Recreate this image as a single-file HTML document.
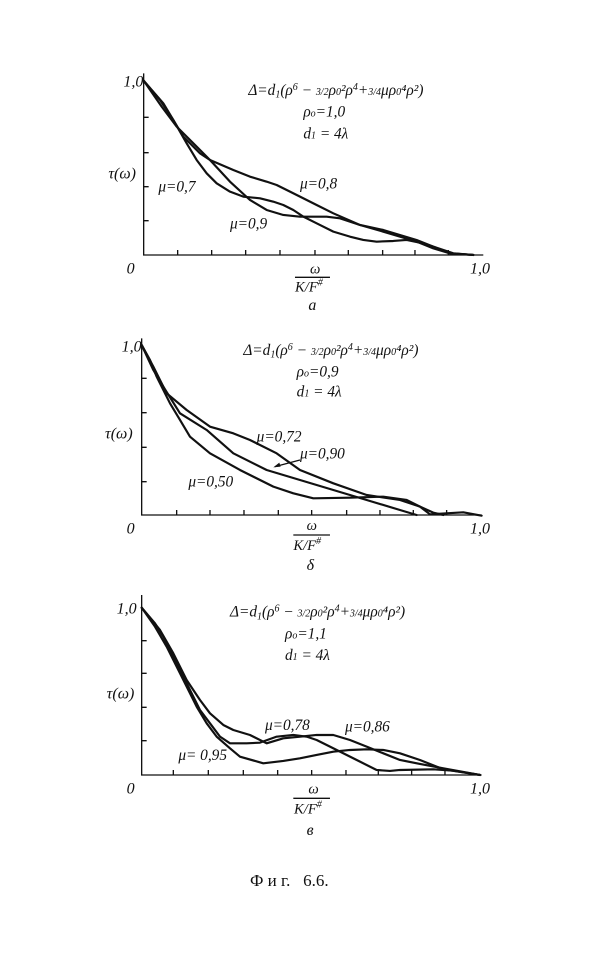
<!DOCTYPE html>
<html><head><meta charset="utf-8"><style>
html,body{margin:0;padding:0;background:#fff;}
svg{display:block;}
text{font-family:"Liberation Serif",serif;font-style:italic;fill:#111;}
.c{fill:none;stroke:#111;stroke-width:6.5;stroke-linejoin:round;stroke-linecap:round;}
.ax{fill:none;stroke:#111;stroke-width:4;}
</style></head><body>
<svg width="600" height="957" viewBox="0 0 600 957">
<!-- Chart a -->
<g transform="translate(100,60) scale(0.3333)">
<path class="ax" d="M131,40 V585 H1150"/>
<path class="ax" d="M131,172h15M131,278h15M131,380h15M131,482h15M233,585v-15M335,585v-15M437,585v-15M540,585v-15M645,585v-15M745,585v-15M848,585v-15M945,585v-15M1045,585v-15"/>
<path class="c" d="M131,62 L190,130 250,230 300,280 330,300 400,330 450,350 500,365 530,375 570,395 600,410 650,435 700,460 780,495 850,515 950,545 1000,565 1050,580 1120,585"/>
<path class="c" d="M131,62 L180,120 220,180 260,250 290,300 320,340 350,370 390,395 430,410 480,415 520,425 550,435 580,450 610,470 650,490 700,515 750,530 790,540 830,545 880,543 920,540 960,548 1000,560 1060,580 1120,585"/>
<path class="c" d="M131,62 L185,140 230,200 280,250 330,300 390,365 450,420 500,450 550,465 600,470 630,470 680,470 720,475 780,495 850,510 950,540 1000,560 1050,580 1120,585"/>
<text x="70" y="80" font-size="48">1,0</text>
<text x="80" y="640" font-size="48">0</text>
<text x="1110" y="640" font-size="48">1,0</text>
<text x="25" y="355" font-size="48">τ(ω)</text>
<text x="175" y="395" font-size="46">μ=0,7</text>
<text x="600" y="385" font-size="46">μ=0,8</text>
<text x="390" y="505" font-size="46">μ=0,9</text>
<text x="630" y="640" font-size="44">ω</text>
<path d="M585,652 H690" stroke="#111" stroke-width="4"/>
<text x="585" y="695" font-size="44">K/F<tspan font-size="30" dy="-18">#</tspan></text>
<text x="625" y="750" font-size="48">a</text>
<text x="445" y="105" font-size="46">Δ=d<tspan font-size="30" dy="8">1</tspan><tspan dy="-8">(ρ<tspan font-size="30" dy="-15">6</tspan><tspan dy="15"> − </tspan><tspan font-size="30">3/2</tspan>ρ<tspan font-size="30">0</tspan>²ρ<tspan font-size="30" dy="-15">4</tspan><tspan dy="15">+</tspan><tspan font-size="30">3/4</tspan>μρ<tspan font-size="30">0</tspan>⁴ρ²)</tspan></text>
<text x="610" y="170" font-size="46">ρ<tspan font-size="30">o</tspan>=1,0</text>
<text x="610" y="235" font-size="46">d<tspan font-size="30">1</tspan> = 4λ</text>
</g>
<!-- Chart b -->
<g transform="translate(100,330) scale(0.3333)">
<path class="ax" d="M125,25 V555 H1145"/>
<path class="ax" d="M125,145h15M125,248h15M125,352h15M125,455h15M230,555v-15M330,555v-15M432,555v-15M535,555v-15M635,555v-15M740,555v-15M840,555v-15M940,555v-15M1040,555v-15"/>
<path class="c" d="M125,45 L160,110 200,190 260,240 330,290 400,310 450,330 530,370 600,420 700,460 800,495 900,510 960,530 1000,548 1030,555"/>
<path class="c" d="M125,45 L160,120 190,170 240,250 320,300 400,370 500,420 600,450 700,480 800,510 900,540 950,555"/>
<path class="c" d="M125,45 L150,90 170,140 210,220 240,270 270,320 330,370 420,420 520,470 580,490 640,505 750,503 850,500 920,510 960,530 990,553 1040,550 1090,547 1145,557"/>
<text x="65" y="65" font-size="48">1,0</text>
<text x="80" y="610" font-size="48">0</text>
<text x="1110" y="610" font-size="48">1,0</text>
<text x="15" y="325" font-size="48">τ(ω)</text>
<text x="470" y="335" font-size="46">μ=0,72</text>
<text x="600" y="385" font-size="46">μ=0,90</text>
<path d="M600,390 L525,410" stroke="#111" stroke-width="4"/>
<path d="M520,412 l18,-14 l4,12z" fill="#111"/>
<text x="265" y="470" font-size="46">μ=0,50</text>
<text x="620" y="600" font-size="44">ω</text>
<path d="M580,615 H690" stroke="#111" stroke-width="4"/>
<text x="580" y="660" font-size="44">K/F<tspan font-size="30" dy="-18">#</tspan></text>
<text x="620" y="720" font-size="48">δ</text>
<text x="430" y="75" font-size="46">Δ=d<tspan font-size="30" dy="8">1</tspan><tspan dy="-8">(ρ<tspan font-size="30" dy="-15">6</tspan><tspan dy="15"> − </tspan><tspan font-size="30">3/2</tspan>ρ<tspan font-size="30">0</tspan>²ρ<tspan font-size="30" dy="-15">4</tspan><tspan dy="15">+</tspan><tspan font-size="30">3/4</tspan>μρ<tspan font-size="30">0</tspan>⁴ρ²)</tspan></text>
<text x="590" y="140" font-size="46">ρ<tspan font-size="30">o</tspan>=0,9</text>
<text x="590" y="200" font-size="46">d<tspan font-size="30">1</tspan> = 4λ</text>
</g>
<!-- Chart c -->
<g transform="translate(100,580) scale(0.3333)">
<path class="ax" d="M125,45 V585 H1145"/>
<path class="ax" d="M125,182h15M125,280h15M125,382h15M125,482h15M220,585v-15M325,585v-15M430,585v-15M533,585v-15M635,585v-15M738,585v-15M835,585v-15M935,585v-15M1035,585v-15"/>
<path class="c" d="M125,83 L180,150 220,220 260,300 300,360 330,400 370,435 400,450 450,465 500,490 550,475 600,470 650,465 700,465 750,480 800,500 850,520 900,540 960,552 1030,565 1140,585"/>
<path class="c" d="M125,83 L165,130 190,170 230,250 270,330 300,390 330,430 360,470 390,490 440,490 480,488 530,470 580,465 620,470 650,480 690,500 720,515 780,545 830,570 870,573 900,570 1000,568 1060,572 1140,585"/>
<path class="c" d="M125,83 L165,140 200,200 240,280 290,380 320,430 350,470 390,505 420,530 490,550 550,543 600,535 650,525 700,515 750,510 800,508 850,510 900,520 960,540 1030,568 1140,585"/>
<text x="50" y="100" font-size="48">1,0</text>
<text x="80" y="640" font-size="48">0</text>
<text x="1110" y="640" font-size="48">1,0</text>
<text x="20" y="355" font-size="48">τ(ω)</text>
<text x="495" y="450" font-size="46">μ=0,78</text>
<text x="735" y="455" font-size="46">μ=0,86</text>
<text x="235" y="540" font-size="46">μ= 0,95</text>
<text x="625" y="640" font-size="44">ω</text>
<path d="M580,655 H690" stroke="#111" stroke-width="4"/>
<text x="582" y="700" font-size="44">K/F<tspan font-size="30" dy="-18">#</tspan></text>
<text x="620" y="765" font-size="48">в</text>
<text x="390" y="110" font-size="46">Δ=d<tspan font-size="30" dy="8">1</tspan><tspan dy="-8">(ρ<tspan font-size="30" dy="-15">6</tspan><tspan dy="15"> − </tspan><tspan font-size="30">3/2</tspan>ρ<tspan font-size="30">0</tspan>²ρ<tspan font-size="30" dy="-15">4</tspan><tspan dy="15">+</tspan><tspan font-size="30">3/4</tspan>μρ<tspan font-size="30">0</tspan>⁴ρ²)</tspan></text>
<text x="555" y="175" font-size="46">ρ<tspan font-size="30">o</tspan>=1,1</text>
<text x="555" y="240" font-size="46">d<tspan font-size="30">1</tspan> = 4λ</text>
</g>
<text x="250" y="886" font-size="17" style="font-style:normal">Ф и г.&#160;&#160; 6.6.</text>
</svg>
</body></html>
